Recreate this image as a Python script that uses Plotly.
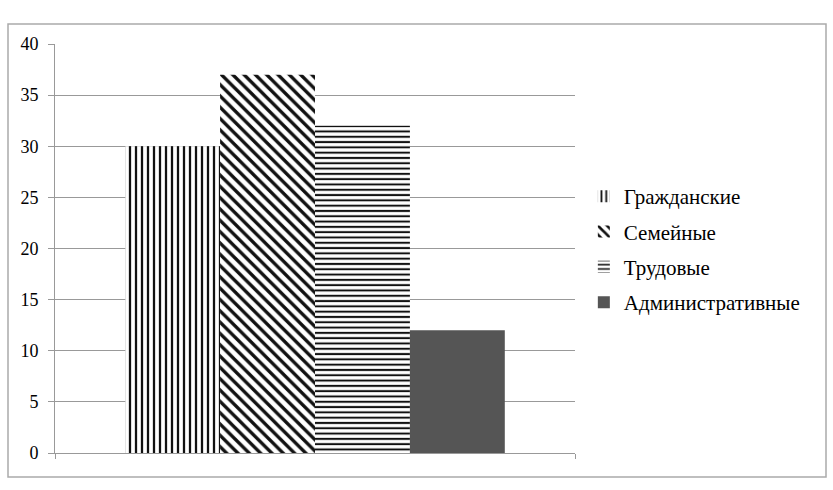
import plotly.graph_objects as go

# Number of cases by category
categories = ["Гражданские", "Семейные", "Трудовые", "Административные"]
values = [30, 37, 32, 12]

patterns = [
    dict(shape="|", size=6, solidity=0.38, fgcolor="#111111", bgcolor="white", fillmode="replace"),
    dict(shape="\\", size=8, solidity=0.42, fgcolor="#111111", bgcolor="white", fillmode="replace"),
    dict(shape="-", size=5.3, solidity=0.38, fgcolor="#111111", bgcolor="white", fillmode="replace"),
    None,
]

fig = go.Figure()
for i, (name, val, pat) in enumerate(zip(categories, values, patterns)):
    marker = dict(color="#555555", line=dict(width=0))
    if pat is not None:
        marker["color"] = "white"
        marker["pattern"] = pat
    fig.add_trace(go.Bar(x=[0], y=[val], name=name, marker=marker,
                         legendgroup=f"g{i}"))

fig.update_layout(
    width=833, height=490,
    margin=dict(l=55, r=258, t=44, b=37),
    paper_bgcolor="white", plot_bgcolor="white",
    barmode="group", bargap=0.27, bargroupgap=0,
    font=dict(family="Liberation Serif", size=18, color="black"),
    showlegend=True,
    legend=dict(x=1.017, y=0.677, xanchor="left", yanchor="top",
                font=dict(family="Liberation Serif", size=21, color="black"),
                traceorder="grouped", tracegroupgap=5,
                bgcolor="rgba(0,0,0,0)"),
    xaxis=dict(range=[-0.5, 0.5], tickvals=[-0.5, 0.5], ticktext=["", ""],
               ticks="outside", ticklen=5, tickcolor="#999999",
               showgrid=False, zeroline=False, showline=True,
               linecolor="#999999", linewidth=1, fixedrange=True),
    yaxis=dict(range=[0, 40], dtick=5, ticks="outside", ticklen=6,
               tickcolor="#999999", showgrid=True, gridcolor="#999999",
               gridwidth=1, zeroline=False, showline=True,
               linecolor="#999999", linewidth=1, ticklabelstandoff=6),
    shapes=[dict(type="rect", xref="paper", yref="paper",
                 x0=(8 - 55) / 520, x1=(826 - 55) / 520,
                 y0=(453 - 477) / 409, y1=(453 - 24) / 409,
                 line=dict(color="#aaaaaa", width=1.5), layer="below")],
)

fig.write_html("out.html")
